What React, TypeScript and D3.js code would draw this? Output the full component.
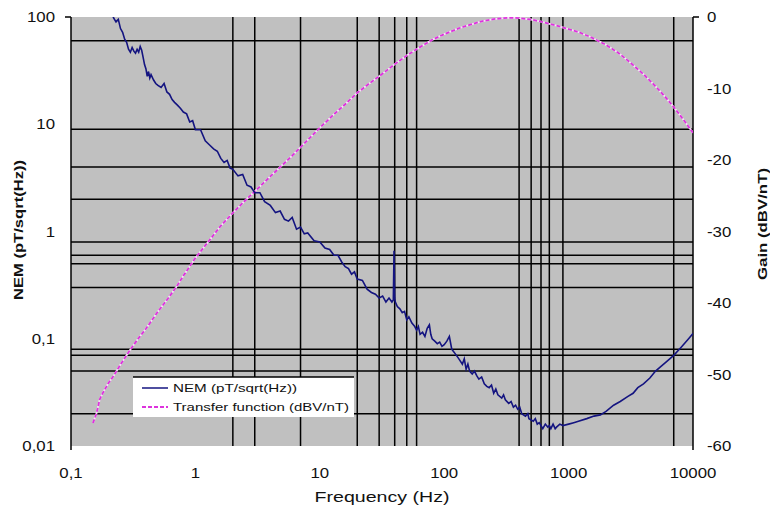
import React from "react";
import * as d3 from "d3";

const W = 770;
const H = 511;

// Axis tick values & labels
const xTicks = [0.1, 1, 10, 100, 1000, 10000];
const xTickLabels = ["0,1", "1", "10", "100", "1000", "10000"];
const yLeftTicks = [100, 10, 1, 0.1, 0.01];
const yLeftLabels = ["100", "10", "1", "0,1", "0,01"];
const yRightTicks = [0, -10, -20, -30, -40, -50, -60];
const yRightLabels = ["0", "-10", "-20", "-30", "-40", "-50", "-60"];

// Grid lines (as drawn in the reference)
const hGridValues = [60, 9, 4, 2, 0.8, 0.6, 0.5, 0.3, 0.08, 0.07, 0.05, 0.02];
const vGridValues = [2, 3, 7, 20, 30, 40, 50, 60, 400, 500, 600, 700, 900, 7000];

// NEM (pT/sqrt(Hz)) series
const nemFreq = [
  0.21, 0.22, 0.23, 0.24, 0.25, 0.26, 0.27, 0.28, 0.29, 0.3, 0.31, 0.32, 0.33, 0.34, 0.35, 0.36, 0.37, 0.38, 0.39, 0.4,
  0.41, 0.42, 0.43, 0.44, 0.46, 0.48, 0.5, 0.53, 0.56, 0.59, 0.62, 0.65, 0.68, 0.72, 0.76, 0.8, 0.85, 0.9, 0.95, 1.0,
  1.1, 1.2, 1.3, 1.4, 1.5, 1.6, 1.7, 1.8, 1.9, 2.0, 2.2, 2.4, 2.6, 2.8, 3.0, 3.3, 3.6, 4.0, 4.4, 4.8,
  5.2, 5.6, 6.0, 6.5, 7.0, 7.5, 8.0, 9.0, 10, 11, 12, 13, 14, 15, 16, 17, 18, 19, 20, 22,
  24, 26, 28, 30, 32, 34, 36, 38, 39, 39.5, 40, 40.5, 42, 44, 46, 48, 50, 52, 55, 58,
  60, 62, 64, 67, 70, 73, 76, 78, 80, 84, 88, 92, 96, 100, 105, 110, 115, 120, 130, 140,
  145, 150, 155, 160, 168, 175, 183, 190, 200, 210, 220, 230, 240, 250, 260, 270, 290, 300, 310, 330,
  345, 360, 375, 390, 405, 420, 450, 470, 480, 520, 540, 560, 580, 600, 620, 650, 680, 700, 720, 750,
  780, 800, 850, 900, 1000, 1100, 1200, 1400, 1600, 1800, 2000, 2300, 2600, 3000, 3300, 3600, 4000, 4500, 5000, 5500,
  6000, 7000, 8000, 9000, 10000,
];
const nemValues = [
  115, 98, 90, 95, 78, 72, 62, 58, 50, 47, 52, 48, 46, 50, 47, 53, 49, 42, 36, 33,
  28, 31, 27, 29, 26, 24, 23, 22, 24, 20, 19, 17, 16, 15, 14, 13, 12.5, 10.5, 10.8, 8.9,
  8.9, 7.0, 6.4, 5.9, 5.6, 4.8, 4.4, 4.6, 3.9, 3.8, 3.3, 3.4, 2.7, 2.6, 2.3, 2.3, 1.9, 1.75, 1.5, 1.55,
  1.3, 1.25, 1.35, 1.05, 1.1, 0.95, 0.97, 0.82, 0.8, 0.7, 0.68, 0.6, 0.6, 0.52, 0.47, 0.45, 0.4, 0.42, 0.36, 0.35,
  0.29, 0.27, 0.26, 0.24, 0.25, 0.22, 0.24, 0.22, 0.23, 0.66, 0.24, 0.22, 0.2, 0.19, 0.175, 0.18, 0.15, 0.16, 0.14, 0.13,
  0.12, 0.13, 0.11, 0.115, 0.105, 0.125, 0.135, 0.11, 0.1, 0.095, 0.09, 0.093, 0.085, 0.088, 0.095, 0.105, 0.08, 0.075, 0.066, 0.058,
  0.065, 0.052, 0.058, 0.05, 0.047, 0.05, 0.045, 0.042, 0.044, 0.038, 0.036, 0.035, 0.037, 0.031, 0.034, 0.03, 0.028, 0.03, 0.027, 0.025,
  0.026, 0.023, 0.024, 0.022, 0.023, 0.02, 0.019, 0.02, 0.018, 0.017, 0.018, 0.016, 0.0165, 0.0155, 0.0145, 0.016, 0.015, 0.0155, 0.0145, 0.016,
  0.0145, 0.015, 0.016, 0.0155, 0.016, 0.0165, 0.017, 0.018, 0.019, 0.0195, 0.021, 0.024, 0.026, 0.029, 0.031, 0.035, 0.038, 0.043, 0.05, 0.055,
  0.06, 0.07, 0.083, 0.097, 0.112,
];

// Transfer function (dBV/nT) series
const tfFreq = [
  0.15, 0.16, 0.17, 0.18, 0.2, 0.22, 0.25, 0.28, 0.3, 0.35, 0.4, 0.5, 0.6, 0.7, 0.8, 1.0, 1.3, 1.6, 2.0, 2.5,
  3.0, 4.0, 5.0, 6.0, 8.0, 10, 13, 16, 20, 25, 30, 40, 50, 60, 80, 100, 130, 160, 200, 250,
  300, 350, 400, 500, 600, 700, 800, 1000, 1200, 1500, 2000, 2500, 3000, 4000, 5000, 6000, 7000, 8000, 9000, 10000,
];
const tfValues = [
  -56.8, -55.5, -53.5, -52.6, -51.2, -50.2, -48.6, -47.3, -46.5, -44.9, -43.6, -41.2, -39.4, -37.8, -36.2, -33.7, -31.2, -29.2, -27.4, -25.7,
  -24.4, -22.3, -20.7, -19.4, -17.2, -15.5, -13.6, -12.2, -10.6, -9.3, -8.3, -6.6, -5.4, -4.5, -3.2, -2.4, -1.6, -1.1, -0.6, -0.3,
  -0.15, -0.1, -0.15, -0.35, -0.65, -0.95, -1.2, -1.7, -2.1, -2.8, -3.9, -5.0, -6.1, -8.0, -9.7, -11.2, -12.6, -13.9, -15.1, -16.2,
];

const seriesNames = ["NEM (pT/sqrt(Hz))", "Transfer function (dBV/nT)"];

const PL = 71, PR = 693, PT = 17, PB = 446;

export default function App() {
  const x = d3.scaleLog().domain([0.1, 10000]).range([PL, PR]);
  const yL = d3.scaleLog().domain([0.01, 100]).range([PB, PT]);
  const yR = d3.scaleLinear().domain([-60, 0]).range([PB, PT]);

  const nemData = nemFreq.map((f, i) => [f, nemValues[i]] as [number, number]);
  const tfData = tfFreq.map((f, i) => [f, tfValues[i]] as [number, number]);

  const nemLine = d3.line<[number, number]>().x((d) => x(d[0])).y((d) => yL(d[1]));
  const tfLine = d3.line<[number, number]>().x((d) => x(d[0])).y((d) => yR(d[1]));

  const font = "'Liberation Sans', Arial, sans-serif";
  const tickStyle = { fontFamily: font, fontSize: 14, fill: "#111" };
  const magenta = "#dd33dd";
  const navy = "#141480";

  return (
    <svg width={W} height={H} style={{ position: "absolute", left: 0, top: 0, background: "#fff" }}>
      <defs>
        <clipPath id="plotClip">
          <rect x={PL} y={PT} width={PR - PL} height={PB - PT} />
        </clipPath>
      </defs>
      <rect x={PL} y={PT} width={PR - PL} height={PB - PT} fill="#c0c0c0" />
      {hGridValues.map((v, i) => (
        <line key={"h" + i} x1={PL} x2={PR} y1={yL(v)} y2={yL(v)} stroke="#000" strokeWidth={1.5} />
      ))}
      {vGridValues.map((v, i) => (
        <line key={"v" + i} x1={x(v)} x2={x(v)} y1={PT} y2={PB} stroke="#000" strokeWidth={1.5} />
      ))}
      {/* axes */}
      <line x1={PL} x2={PL} y1={PT} y2={PB + 4} stroke="#000" strokeWidth={1.5} />
      <line x1={PL - 6} x2={PL} y1={PT} y2={PT} stroke="#000" strokeWidth={1.5} />
      <line x1={PR} x2={PR} y1={PT} y2={PB + 4} stroke="#000" strokeWidth={1.5} />
      <line x1={PR} x2={PR + 6} y1={PT} y2={PT} stroke="#000" strokeWidth={1.5} />

      <g clipPath="url(#plotClip)">
        <path d={tfLine(tfData) || ""} fill="none" stroke="#f4e4f4" strokeWidth={1.8} />
        <path d={tfLine(tfData) || ""} fill="none" stroke={magenta} strokeWidth={1.8} strokeDasharray="4,2" />
        <path d={nemLine(nemData) || ""} fill="none" stroke={navy} strokeWidth={1.6} strokeLinejoin="miter" />
      </g>

      {/* legend */}
      <rect x={133} y={377} width={221} height={40} fill="#fff" />
      <line x1={133} x2={354} y1={377} y2={377} stroke="#000" strokeWidth={1.5} />
      <line x1={142} x2={168} y1={388} y2={388} stroke={navy} strokeWidth={1.5} />
      <line x1={142} x2={168} y1={407} y2={407} stroke={magenta} strokeWidth={2} strokeDasharray="4,2" />
      <text x={173} y={392} fontFamily={font} fontSize={11} fill="#111" textLength={124} lengthAdjust="spacingAndGlyphs">
        {seriesNames[0]}
      </text>
      <text x={173} y={411} fontFamily={font} fontSize={11} fill="#111" textLength={176} lengthAdjust="spacingAndGlyphs">
        {seriesNames[1]}
      </text>

      {/* left ticks */}
      {yLeftTicks.map((v, i) => (
        <text key={"yl" + i} transform={`translate(${55},${yL(v) + 5}) scale(1.2,1)`} textAnchor="end" style={tickStyle}>
          {yLeftLabels[i]}
        </text>
      ))}
      {/* right ticks */}
      {yRightTicks.map((v, i) => (
        <text key={"yr" + i} transform={`translate(${707},${yR(v) + 5}) scale(1.2,1)`} textAnchor="start" style={tickStyle}>
          {yRightLabels[i]}
        </text>
      ))}
      {/* bottom ticks */}
      {xTicks.map((v, i) => (
        <text key={"x" + i} transform={`translate(${x(v)},${478}) scale(1.2,1)`} textAnchor="middle" style={tickStyle}>
          {xTickLabels[i]}
        </text>
      ))}

      {/* titles */}
      <text x={382} y={502} textAnchor="middle" fontFamily={font} fontSize={15} fill="#111" textLength={135} lengthAdjust="spacingAndGlyphs">
        Frequency (Hz)
      </text>
      <text transform="translate(23,230) rotate(-90)" textAnchor="middle" fontFamily={font} fontSize={13} fontWeight="bold" fill="#111" textLength={140} lengthAdjust="spacingAndGlyphs">
        NEM (pT/sqrt(Hz))
      </text>
      <text transform="translate(767,224) rotate(-90)" textAnchor="middle" fontFamily={font} fontSize={13} fontWeight="bold" fill="#111" textLength={112} lengthAdjust="spacingAndGlyphs">
        Gain (dBV/nT)
      </text>
    </svg>
  );
}
